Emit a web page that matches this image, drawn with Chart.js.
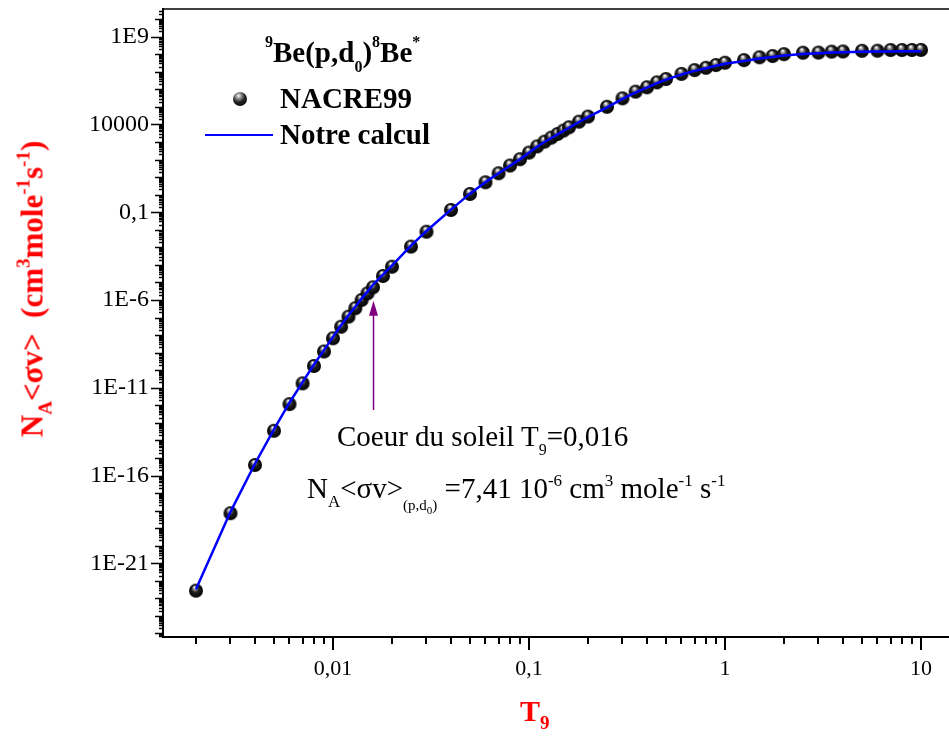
<!DOCTYPE html>
<html>
<head>
<meta charset="utf-8">
<title>9Be(p,d0)8Be* - NACRE99 / Notre calcul</title>
<script src="https://cdn.jsdelivr.net/npm/chart.js@4.4.1/dist/chart.umd.min.js"></script>
<style>
    body { margin: 0; background: #fff; overflow: hidden; }
    #wrap { position: relative; width: 949px; height: 738px; }
    #wrap canvas { position: absolute; left: 0; top: 0; }
    .txt { position: absolute; white-space: nowrap; font-family: "Liberation Serif", "Times New Roman", serif; color: #000; }
    .txt sup, .txt sub { position: relative; vertical-align: baseline; line-height: 0; }
    .bold { font-weight: bold; }
    .red { color: #ff0000; }
    #ytitle { transform: translate(-50%, -50%) rotate(-90deg); }
    #legSphere { position: absolute; width: 14px; height: 14px; border-radius: 50%;
        background: radial-gradient(circle at 40% 28%, #fff 0%, #aaa 15%, #222 48%, #000 100%); }
    #legLine { position: absolute; height: 2px; background: #0000ff; }
</style>
</head>
<body>
<div id="wrap">
    <canvas id="myChart" width="949" height="738"></canvas>

    <!-- legende -->
    <div class="txt bold" style="left:265px; top:38px; font-size:29px; line-height:29px;"><sup style="font-size:16px; top:-15px;">9</sup>Be(p,d<sub style="font-size:16px; top:10px;">0</sub>)<sup style="font-size:16px; top:-15px;">8</sup>Be<sup style="font-size:16px; top:-15px;">*</sup></div>
    <div id="legSphere" style="left:233px; top:92px;"></div>
    <div class="txt bold" style="left:280px; top:84px; font-size:29px; line-height:29px;">NACRE99</div>
    <div id="legLine" style="left:205px; top:134px; width:68px;"></div>
    <div class="txt bold" style="left:280px; top:120px; font-size:29px; line-height:29px;">Notre calcul</div>

    <!-- annotation du coeur solaire -->
    <div class="txt" style="left:337px; top:422px; font-size:29px; line-height:29px;">Coeur du soleil T<sub style="font-size:16px; top:9px;">9</sub>=0,016</div>
    <div class="txt" style="left:307px; top:474px; font-size:29px; line-height:29px;">N<sub style="font-size:17px; top:9px;">A</sub>&lt;σv&gt;<sub style="font-size:15px; top:12px;">(p,d<sub style="font-size:11px; top:4px;">0</sub>)</sub> =7,41 10<sup style="font-size:17px; top:-12px;">-6</sup> cm<sup style="font-size:17px; top:-12px;">3</sup> mole<sup style="font-size:17px; top:-12px;">-1</sup> s<sup style="font-size:17px; top:-12px;">-1</sup></div>

    <!-- titres des axes -->
    <div class="txt bold red" style="left:520px; top:696px; font-size:30px; line-height:30px;">T<sub style="font-size:19px; top:8px;">9</sub></div>
    <div id="ytitle" class="txt bold red" style="left:32px; top:289px; font-size:31px; line-height:31px;">N<sub style="font-size:19px; top:9px;">A</sub>&lt;σv&gt;&nbsp;&nbsp;(cm<sup style="font-size:19px; top:-13px;">3</sup>mole<sup style="font-size:19px; top:-13px;">-1</sup>s<sup style="font-size:19px; top:-13px;">-1</sup>)</div>
</div>

<script>
// temperatures T9 (grille NACRE)
const t9 = [0.002, 0.003, 0.004, 0.005, 0.006, 0.007, 0.008, 0.009, 0.010, 0.011, 0.012, 0.013, 0.014, 0.015, 0.016,
    0.018, 0.020, 0.025, 0.030,
    0.040, 0.050, 0.060, 0.070, 0.080, 0.090, 0.100, 0.110, 0.120, 0.130, 0.140, 0.150, 0.160,
    0.180, 0.200, 0.250, 0.300, 0.350, 0.400, 0.450, 0.500,
    0.600, 0.700, 0.800, 0.900, 1.000,
    1.250, 1.500, 1.750, 2.000, 2.500, 3.000, 3.500, 4.000,
    5.000, 6.000, 7.000, 8.000, 9.000, 10.00];

// taux NACRE99 (cm3 mole-1 s-1)
const nacre99 = [2.75e-23, 7.08e-19, 3.98e-16, 3.55e-14, 1.17e-12, 1.78e-11, 1.74e-10, 1.17e-9, 6.6e-9, 3.0e-8, 1.12e-7, 3.4e-7, 1.0e-6, 2.4e-6, 5.25e-6,
    2.34e-5, 7.9e-5, 1.1e-3, 7.8e-3,
    0.135, 1.1, 5.1, 16.6, 45.7, 105, 251, 562, 1050, 1780, 2880, 4470, 6920,
    1.45e4, 2.82e4, 1.02e5, 3.09e5, 7.41e5, 1.32e6, 2.51e6, 3.89e6,
    7.59e6, 1.26e7, 1.70e7, 2.45e7, 3.31e7,
    4.68e7, 6.76e7, 7.94e7, 1.02e8, 1.23e8, 1.25e8, 1.41e8, 1.45e8,
    1.58e8, 1.60e8, 1.74e8, 1.75e8, 1.76e8, 1.77e8];

// notre calcul
const notreCalcul = [3.3e-23, 8.5e-19, 4.7e-16, 4.2e-14, 1.4e-12, 2.1e-11, 2.1e-10, 1.4e-9, 7.9e-9, 3.6e-8, 1.35e-7, 4.1e-7, 1.2e-6, 3.0e-6, 7.41e-6,
    2.8e-5, 9.2e-5, 1.25e-3, 8.5e-3,
    0.14, 1.15, 5.2, 16.5, 45, 103, 245, 540, 1000, 1700, 2750, 4250, 6500,
    1.38e4, 2.65e4, 9.5e4, 2.9e5, 6.8e5, 1.25e6, 2.3e6, 3.6e6,
    7.0e6, 1.13e7, 1.6e7, 2.2e7, 2.9e7,
    4.2e7, 5.8e7, 7.0e7, 8.5e7, 1.03e8, 1.15e8, 1.25e8, 1.3e8,
    1.38e8, 1.42e8, 1.45e8, 1.47e8, 1.48e8, 1.49e8];

const xTicks = [0.01, 0.1, 1, 10];
const xTickLabels = ['0,01', '0,1', '1', '10'];
const yTicks = [1e-21, 1e-16, 1e-11, 1e-6, 0.1, 1e4, 1e9];
const yTickLabels = ['1E-21', '1E-16', '1E-11', '1E-6', '0,1', '10000', '1E9'];

// fleche : coeur du soleil
const arrowT9 = 0.016;
const arrowFrom = 5.4e-13;
const arrowTo = 9e-7;

const serif = '"Liberation Serif", "Times New Roman", serif';

function makeSphere(r) {
    const c = document.createElement('canvas');
    c.width = c.height = 2 * r + 2;
    const g = c.getContext('2d');
    const cx = r + 1, cy = r + 1;
    const grad = g.createRadialGradient(cx - r * 0.2, cy - r * 0.5, 0.5, cx, cy, r);
    grad.addColorStop(0, '#ffffff');
    grad.addColorStop(0.15, '#a8a8a8');
    grad.addColorStop(0.48, '#202020');
    grad.addColorStop(1, '#000000');
    g.fillStyle = grad;
    g.beginPath();
    g.arc(cx, cy, r, 0, Math.PI * 2);
    g.fill();
    return c;
}

function toPoints(ys) {
    return t9.map((t, i) => ({x: t, y: ys[i]}));
}

// graduations exterieures + cadre du haut + fleche
const axisDecor = {
    id: 'axisDecor',
    afterDraw(chart) {
        const ctx = chart.ctx;
        const a = chart.chartArea;
        const xs = chart.scales.x;
        const ys = chart.scales.y;
        ctx.save();
        ctx.strokeStyle = '#000';

        ctx.lineWidth = 1.5;
        ctx.beginPath();
        ctx.moveTo(a.left, a.top);
        ctx.lineTo(a.right, a.top);
        ctx.stroke();

        ctx.lineWidth = 2;
        ctx.beginPath();
        for (let n = -3; n <= 1; n++) {
            for (let k = 1; k <= 9; k++) {
                const v = k * Math.pow(10, n);
                if (v < xs.min || v > xs.max) continue;
                const px = Math.round(xs.getPixelForValue(v));
                ctx.moveTo(px, a.bottom);
                ctx.lineTo(px, a.bottom + (k === 1 ? 13 : 7));
            }
        }
        ctx.stroke();

        ctx.lineWidth = 1.5;
        ctx.beginPath();
        for (let n = -26; n <= 10; n++) {
            for (let k = 1; k <= 9; k++) {
                const v = k * Math.pow(10, n);
                if (v < ys.min || v > ys.max) continue;
                const py = Math.round(ys.getPixelForValue(v)) + 0.5;
                let len = 4;
                if (k === 1) len = (((n % 5) + 5) % 5 === 4) ? 12 : 8;
                ctx.moveTo(a.left, py);
                ctx.lineTo(a.left - len, py);
            }
        }
        ctx.stroke();

        const ax = Math.round(xs.getPixelForValue(arrowT9)) + 0.5;
        const y0 = ys.getPixelForValue(arrowFrom);
        const y1 = ys.getPixelForValue(arrowTo);
        ctx.strokeStyle = '#800080';
        ctx.fillStyle = '#800080';
        ctx.lineWidth = 1.5;
        ctx.beginPath();
        ctx.moveTo(ax, y0);
        ctx.lineTo(ax, y1 + 12);
        ctx.stroke();
        ctx.beginPath();
        ctx.moveTo(ax, y1);
        ctx.lineTo(ax - 4.5, y1 + 15);
        ctx.lineTo(ax + 4.5, y1 + 15);
        ctx.closePath();
        ctx.fill();
        ctx.restore();
    }
};

const ctx = document.getElementById('myChart').getContext('2d');
const chart = new Chart(ctx, {
    type: 'line',
    data: {
        datasets: [{
            label: 'Notre calcul',
            data: toPoints(notreCalcul),
            borderColor: '#0000ff',
            borderWidth: 2.5,
            pointRadius: 0,
            tension: 0,
            fill: false,
            order: 0
        }, {
            label: 'NACRE99',
            data: toPoints(nacre99),
            showLine: false,
            pointStyle: makeSphere(7),
            pointRadius: 7,
            order: 1
        }]
    },
    options: {
        responsive: false,
        animation: false,
        layout: {autoPadding: false, padding: {top: 9, right: 0, left: 0, bottom: 0}},
        plugins: {legend: {display: false}, tooltip: {enabled: false}},
        scales: {
            x: {
                type: 'logarithmic',
                min: 0.001358,
                max: 13.9,
                grid: {display: false, drawTicks: false},
                border: {display: true, color: '#000', width: 2},
                ticks: {
                    font: {family: serif, size: 22},
                    color: '#000',
                    padding: 19,
                    autoSkip: false,
                    maxRotation: 0,
                    callback: (v) => xTickLabels[xTicks.indexOf(v)]
                },
                afterBuildTicks: (s) => { s.ticks = xTicks.map(v => ({value: v})); },
                afterFit: (s) => { s.height = 101; s.paddingLeft = 0; s.paddingRight = 0; }
            },
            y: {
                type: 'logarithmic',
                min: 6.3e-26,
                max: 3.8e10,
                grid: {display: false, drawTicks: false},
                border: {display: true, color: '#000', width: 2},
                ticks: {
                    font: {family: serif, size: 24},
                    color: '#000',
                    padding: 14,
                    autoSkip: false,
                    callback: (v) => yTickLabels[yTicks.indexOf(v)]
                },
                afterBuildTicks: (s) => { s.ticks = yTicks.map(v => ({value: v})); },
                afterFit: (s) => { s.width = 163; s.paddingTop = 0; s.paddingBottom = 0; }
            }
        }
    },
    plugins: [axisDecor]
});
</script>
</body>
</html>
